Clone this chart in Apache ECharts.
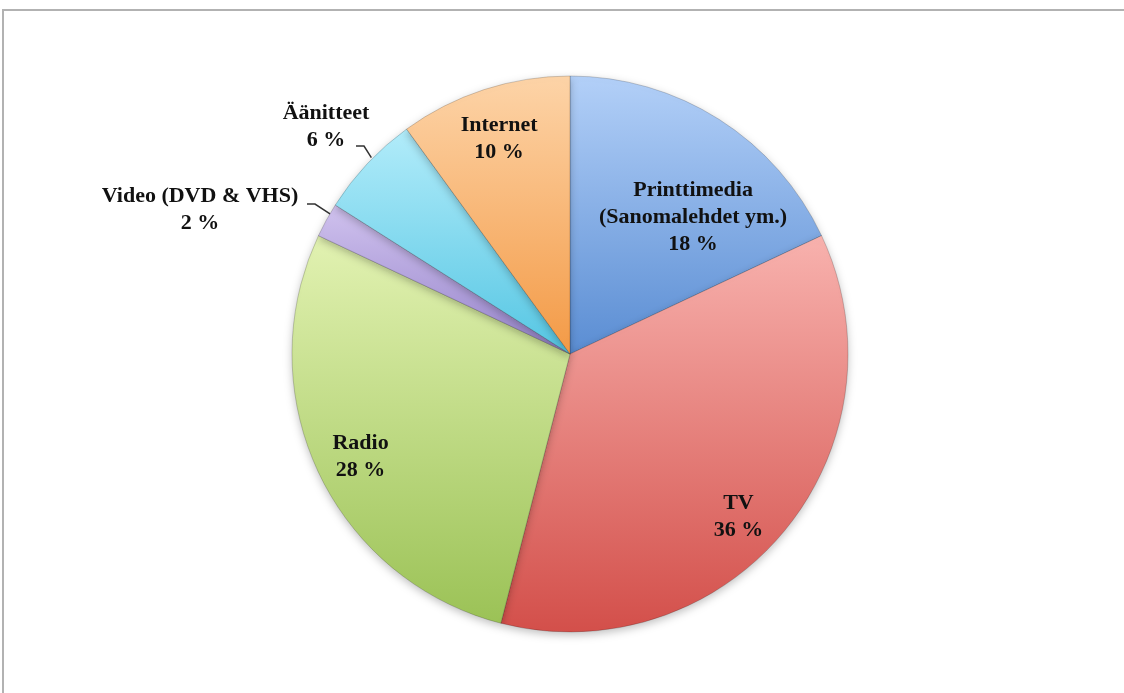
<!DOCTYPE html>
<html>
<head>
<meta charset="utf-8">
<script src="https://cdn.jsdelivr.net/npm/echarts@6/dist/echarts.min.js"></script>
<style>
  html, body { margin: 0; padding: 0; background: #fff; }
  #wrap { position: relative; width: 1124px; height: 693px; overflow: hidden; }
  #frame { position: absolute; left: 2px; top: 9px; width: 1200px; height: 800px;
           border-top: 2px solid #b2b2b2; border-left: 2px solid #b2b2b2; }
  #chart { position: absolute; left: 0; top: 0; width: 1124px; height: 693px; }
</style>
</head>
<body>
<div id="wrap">
  <div id="frame"></div>
  <div id="chart"></div>
</div>
<script>
// media share, clockwise from 12 o'clock
const categories = ['Printtimedia\n(Sanomalehdet ym.)', 'TV', 'Radio', 'Video (DVD & VHS)', 'Äänitteet', 'Internet'];
const shares = [18, 36, 28, 2, 6, 10];
const labelTexts = ['18 %', '36 %', '28 %', '2 %', '6 %', '10 %'];

// [top colour, bottom colour] for each slice
const sliceColors = [
  ['#b3d0f8', '#5a8dd3'],
  ['#f8b2ae', '#d34f4a'],
  ['#e2f2b2', '#9bc256'],
  ['#d0c2ee', '#9684cb'],
  ['#b2ecfa', '#55c6e3'],
  ['#fdd4a8', '#f39a46']
];
const outside = [false, false, false, true, true, false];

// shifts of inner labels from the default mid-radius spot
const labelShift = [[47, -17], [59, 72], [-81, 42], null, null, [-27, -80]];
// outer labels: text centre and where the leader line meets the text
const outerSpot = [null, null, null, [200, 210], [326, 127], null];
const leaderEnd = [null, null, null, [307, 204], [356, 146], null];

const chart = echarts.init(document.getElementById('chart'));

const data = categories.map((name, i) => ({
  name: name,
  value: shares[i],
  itemStyle: {
    color: new echarts.graphic.LinearGradient(0, 0, 0, 1, [
      { offset: 0, color: sliceColors[i][0] },
      { offset: 1, color: sliceColors[i][1] }
    ])
  },
  label: { position: outside[i] ? 'outside' : 'inside' },
  labelLine: { show: outside[i] }
}));

chart.setOption({
  animation: false,
  series: [{
    type: 'pie',
    center: [570, 354],
    radius: 278,
    startAngle: 90,
    clockwise: true,
    data: data,
    itemStyle: {
      borderColor: 'rgba(0,0,0,0.18)',
      borderWidth: 1,
      shadowBlur: 8,
      shadowOffsetY: 3,
      shadowColor: 'rgba(0,0,0,0.25)'
    },
    label: {
      formatter: (p) => p.name + '\n' + labelTexts[p.dataIndex],
      fontFamily: '"Liberation Serif", "Times New Roman", serif',
      fontWeight: 'bold',
      fontSize: 22,
      lineHeight: 27,
      color: '#111',
      align: 'center'
    },
    labelLine: {
      length: 14,
      length2: 10,
      lineStyle: { color: '#333', width: 1.5 }
    },
    labelLayout: (p) => {
      const i = p.dataIndex;
      if (outerSpot[i]) {
        const start = p.labelLinePoints ? p.labelLinePoints[0] : null;
        const end = leaderEnd[i];
        const out = { x: outerSpot[i][0], y: outerSpot[i][1], align: 'center', verticalAlign: 'middle' };
        if (start) {
          out.labelLinePoints = [
            [start[0] + 4, start[1] - 6],
            [end[0] + 8, end[1]],
            end
          ];
        }
        return out;
      }
      return { dx: labelShift[i][0], dy: labelShift[i][1] };
    }
  }]
});
</script>
</body>
</html>
